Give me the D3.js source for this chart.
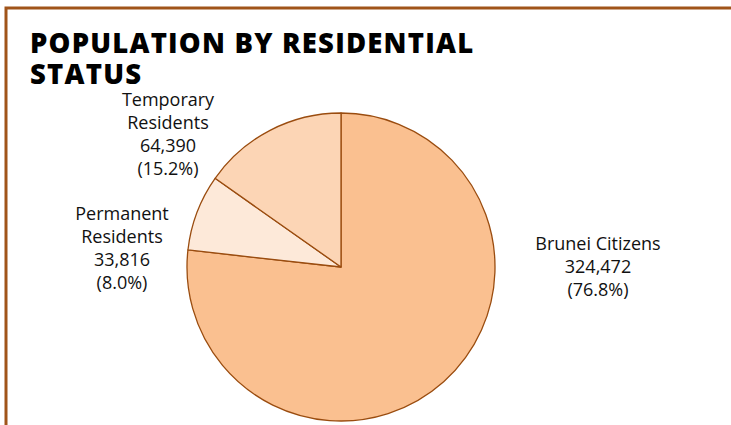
<!DOCTYPE html>
<html>
<head>
<meta charset="utf-8">
<script src="https://cdn.jsdelivr.net/npm/d3@7"></script>
<style>
  body { margin: 0; background: #fff; }
  svg { display: block; }
  .lbl { font-family: "Open Sans", Lato, sans-serif; font-size: 18px; fill: #111; }
  .title { font-family: "Open Sans", Lato, sans-serif; font-weight: 800; font-size: 27.5px; letter-spacing: 1.2px; fill: #000; }
</style>
</head>
<body>
<svg class="chart"></svg>
<script>
// data
const categories = ['Brunei Citizens', 'Permanent Residents', 'Temporary Residents'];
const counts = [324472, 33816, 64390];
const shares = [76.8, 8.0, 15.2];

const width = 731;
const height = 425;
const cx = 341;
const cy = 267;
const radius = 154;

const colors = ['#FAC090', '#FDE9D9', '#FCD5B5'];
const edge = '#9a4c0f';

// label centre offsets from the pie centre, and how each name wraps
const labelSpots = {
  'Brunei Citizens': { dx: 257, dy: 0, lines: ['Brunei Citizens'] },
  'Permanent Residents': { dx: -219, dy: -19, lines: ['Permanent', 'Residents'] },
  'Temporary Residents': { dx: -173, dy: -133, lines: ['Temporary', 'Residents'] }
};

const data = categories.map((c, i) => ({ name: c, value: counts[i], pct: shares[i], color: colors[i] }));

const svg = d3.select('.chart')
  .attr('width', width)
  .attr('height', height);

// frame (top and left edges visible)
svg.append('path')
  .attr('d', `M6,${height + 5}V8H${width + 5}`)
  .attr('fill', 'none')
  .attr('stroke', '#a0541a')
  .attr('stroke-width', 3);

const title = svg.append('text')
  .attr('class', 'title');
title.append('tspan').attr('x', 30).attr('y', 53).text('POPULATION BY RESIDENTIAL');
title.append('tspan').attr('x', 30).attr('y', 84).text('STATUS');

const pie = d3.pie().sort(null).value(d => d.value);
const arc = d3.arc().innerRadius(0).outerRadius(radius);

const g = svg.append('g')
  .attr('transform', 'translate(' + cx + ',' + cy + ')');

g.selectAll('path.slice')
  .data(pie(data))
  .enter().append('path')
  .attr('class', 'slice')
  .attr('d', arc)
  .attr('fill', d => d.data.color)
  .attr('stroke', edge)
  .attr('stroke-width', 1.3)
  .attr('stroke-linejoin', 'round');

const fmt = d3.format(',');
const lineH = 23;

data.forEach(d => {
  const spot = labelSpots[d.name];
  const lines = spot.lines.concat([fmt(d.value), '(' + d.pct.toFixed(1) + '%)']);
  const top = spot.dy - (lines.length - 1) * lineH / 2;
  const t = g.append('text')
    .attr('class', 'lbl')
    .attr('text-anchor', 'middle');
  lines.forEach((s, i) => {
    t.append('tspan')
      .attr('x', spot.dx)
      .attr('y', top + i * lineH)
      .attr('dy', '0.35em')
      .text(s);
  });
});
</script>
</body>
</html>
